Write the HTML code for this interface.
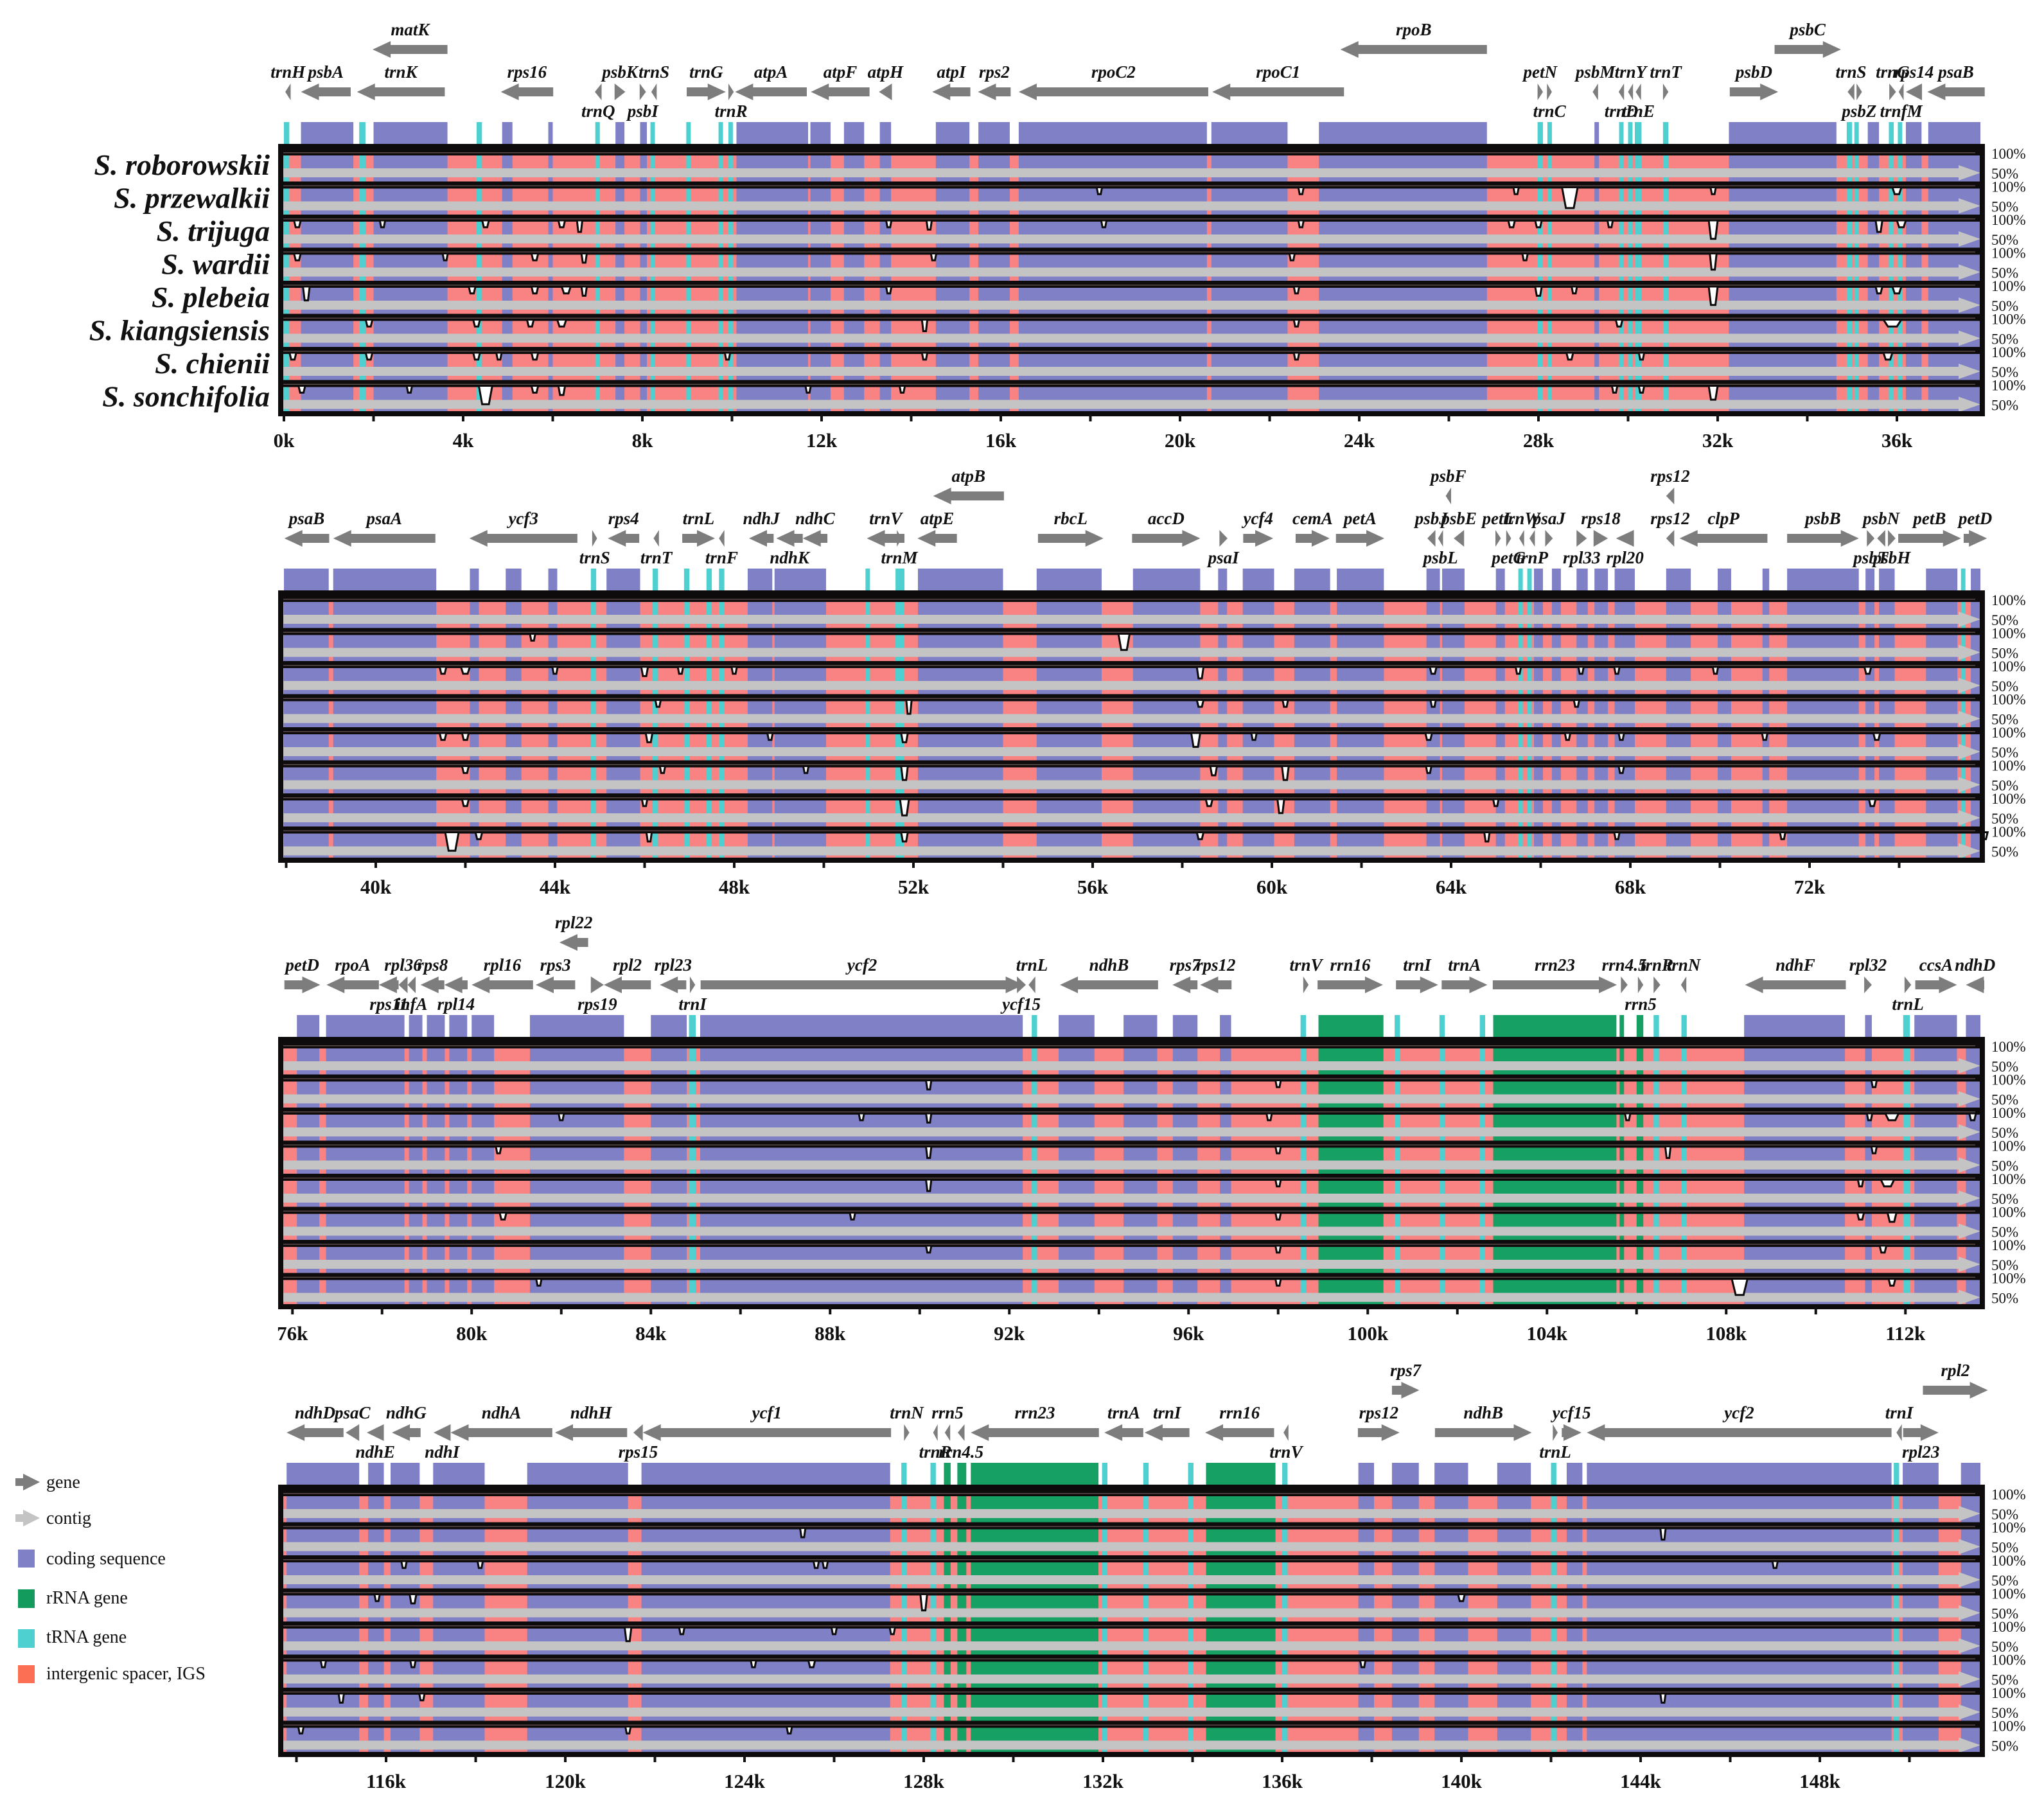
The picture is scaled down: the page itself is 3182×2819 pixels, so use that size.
<!DOCTYPE html>
<html><head><meta charset="utf-8"><title>mVISTA plastome alignment</title>
<style>
html,body{margin:0;padding:0;background:#fff;}
svg{display:block;}
.gl{font-family:"Liberation Serif",serif;font-weight:bold;font-style:italic;font-size:27px;fill:#111;}
.sp{font-family:"Liberation Serif",serif;font-weight:bold;font-style:italic;font-size:46px;fill:#111;}
.ax{font-family:"Liberation Serif",serif;font-weight:bold;font-size:31px;fill:#111;}
.pc{font-family:"Liberation Serif",serif;font-size:23px;fill:#111;}
.lg{font-family:"Liberation Serif",serif;font-size:28px;fill:#111;}
</style></head>
<body>
<svg id="chart" xmlns="http://www.w3.org/2000/svg" width="3182" height="2819" viewBox="0 0 3182 2819">
<rect x="0" y="0" width="3182" height="2819" fill="#ffffff"/>
<g>
 <g><rect x="24" y="2301" width="14" height="12" fill="#7d7d7d"/><polygon points="36,2294 62,2307 36,2320" fill="#7d7d7d"/><text class="lg" x="72" y="2316">gene</text></g>
 <g><rect x="24" y="2357" width="14" height="12" fill="#c4c4c4"/><polygon points="36,2350 62,2363 36,2376" fill="#c4c4c4"/><text class="lg" x="72" y="2372">contig</text></g>
 <g><rect x="28" y="2412" width="26" height="28" fill="#7f80c6"/><text class="lg" x="72" y="2435">coding sequence</text></g>
 <g><rect x="28" y="2474" width="26" height="29" fill="#129b5c"/><text class="lg" x="72" y="2496">rRNA gene</text></g>
 <g><rect x="28" y="2536" width="26" height="29" fill="#4fd0d0"/><text class="lg" x="72" y="2557">tRNA gene</text></g>
 <g><rect x="28" y="2592" width="26" height="28" fill="#fd6f55"/><text class="lg" x="72" y="2614">intergenic spacer, IGS</text></g>
</g>
</svg>
<script>
// ---- data ----
const species = ["S. roborowskii","S. przewalkii","S. trijuga","S. wardii","S. plebeia","S. kiangsiensis","S. chienii","S. sonchifolia"];
const panelStarts = [0, 37.95, 75.81, 113.72];
const panelLength = 38.05;
const tickStepK = 2;
const labelStepK = 4;
// annotation blocks per panel: [start k, end k, type] c=coding t=tRNA r=rRNA
const blocks0 = [[0,0.12,'t'],[0.38,1.55,'c'],[1.68,1.82,'t'],[2.0,3.65,'c'],[4.3,4.42,'t'],[4.87,5.1,'c'],[5.9,6.0,'c'],[6.95,7.05,'t'],[7.4,7.6,'c'],[7.95,8.1,'c'],[8.18,8.28,'t'],[8.98,9.08,'t'],[9.7,9.8,'t'],[9.92,10.02,'t'],[10.1,11.7,'c'],[11.75,12.2,'c'],[12.5,12.95,'c'],[13.3,13.55,'c'],[14.55,15.3,'c'],[15.5,16.2,'c'],[16.4,20.6,'c'],[20.7,22.4,'c'],[23.1,26.85,'c'],[27.98,28.1,'t'],[28.2,28.3,'t'],[29.25,29.35,'c'],[29.8,29.9,'t'],[30.0,30.1,'t'],[30.15,30.3,'t'],[30.78,30.9,'t'],[32.25,34.65,'c'],[34.88,35.0,'t'],[35.05,35.15,'t'],[35.35,35.6,'c'],[35.82,35.93,'t'],[36.02,36.12,'t'],[36.2,36.55,'c'],[36.7,37.98,'c']];
const blocks1 = [[37.95,38.95,'c'],[39.05,41.35,'c'],[42.1,42.3,'c'],[42.9,43.25,'c'],[43.85,44.05,'c'],[44.8,44.92,'t'],[45.15,45.9,'c'],[46.18,46.3,'t'],[46.88,47.0,'t'],[47.38,47.5,'t'],[47.66,47.78,'t'],[48.3,48.85,'c'],[48.9,50.05,'c'],[50.93,51.03,'t'],[51.6,51.8,'t'],[52.1,54.0,'c'],[54.75,56.2,'c'],[56.9,58.4,'c'],[58.8,59.0,'c'],[59.35,60.05,'c'],[60.5,61.3,'c'],[61.45,62.5,'c'],[63.45,63.75,'c'],[63.8,64.3,'c'],[65.0,65.2,'c'],[65.5,65.6,'t'],[65.7,65.8,'t'],[65.85,66.05,'c'],[66.25,66.45,'c'],[66.8,67.05,'c'],[67.2,67.5,'c'],[67.65,68.1,'c'],[68.8,69.35,'c'],[69.95,70.25,'c'],[70.95,71.1,'c'],[71.5,73.1,'c'],[73.25,73.45,'c'],[73.55,73.9,'c'],[74.6,75.3,'c'],[75.38,75.48,'t'],[75.6,75.98,'c']];
const blocks2 = [[76.1,76.6,'c'],[76.75,78.5,'c'],[78.6,78.9,'c'],[79.0,79.4,'c'],[79.5,79.9,'c'],[80.0,80.5,'c'],[81.3,83.4,'c'],[84.0,84.8,'c'],[84.85,85.0,'t'],[85.1,92.3,'c'],[92.5,92.62,'t'],[93.1,93.9,'c'],[94.55,95.3,'c'],[95.65,96.2,'c'],[96.7,96.95,'c'],[98.5,98.62,'t'],[98.9,100.35,'r'],[100.6,100.72,'t'],[101.6,101.72,'t'],[102.5,102.62,'t'],[102.8,105.55,'r'],[105.62,105.72,'r'],[106.0,106.15,'r'],[106.38,106.5,'t'],[107.0,107.12,'t'],[108.4,110.65,'c'],[111.1,111.25,'c'],[111.95,112.1,'t'],[112.2,113.15,'c'],[113.35,113.75,'c']];
const blocks3 = [[113.78,115.4,'c'],[115.6,115.95,'c'],[116.1,116.75,'c'],[117.05,118.2,'c'],[119.15,121.4,'c'],[121.7,127.25,'c'],[127.5,127.62,'t'],[128.15,128.27,'t'],[128.45,128.6,'r'],[128.75,128.95,'r'],[129.05,131.9,'r'],[131.98,132.1,'t'],[132.9,133.02,'t'],[133.9,134.02,'t'],[134.3,135.85,'r'],[136.0,136.12,'t'],[137.7,138.05,'c'],[138.45,139.05,'c'],[139.4,140.15,'c'],[140.8,141.55,'c'],[142.0,142.12,'t'],[142.35,142.7,'c'],[142.8,149.6,'c'],[149.65,149.77,'t'],[149.85,150.65,'c'],[151.15,151.65,'c']];
// genes: [name, start k, end k, direction (+1 right / -1 left), placement a=label above, b=label below, u=upper row]
const genes0 = [["trnH",0.03,0.15,-1,'a'],["psbA",0.38,1.49,-1,'a'],["trnK",1.63,3.59,-1,'a'],["matK",1.98,3.65,-1,'u'],["rps16",4.84,6.01,-1,'a'],["trnQ",6.94,7.09,-1,'b'],["psbK",7.38,7.62,1,'a'],["psbI",7.94,8.08,1,'b'],["trnS",8.2,8.32,-1,'a'],["trnG",8.99,9.86,1,'a'],["trnR",9.92,10.04,1,'b'],["atpA",10.07,11.67,-1,'a'],["atpF",11.76,13.07,-1,'a'],["atpH",13.28,13.57,-1,'a'],["atpI",14.47,15.32,-1,'a'],["rps2",15.49,16.22,-1,'a'],["rpoC2",16.4,20.63,-1,'a'],["rpoC1",20.72,23.66,-1,'a'],["rpoB",23.58,26.85,-1,'u'],["petN",27.98,28.1,1,'a'],["trnC",28.19,28.3,1,'b'],["psbM",29.21,29.33,-1,'a'],["trnD",29.79,29.91,-1,'b'],["trnY",30.0,30.11,-1,'a'],["trnE",30.17,30.29,-1,'b'],["trnT",30.78,30.9,1,'a'],["psbD",32.27,33.35,1,'a'],["psbC",33.27,34.75,1,'u'],["trnS",34.9,35.05,-1,'a'],["psbZ",35.1,35.22,1,'b'],["trnG",35.83,35.98,1,'a'],["trnfM",36.04,36.15,-1,'b'],["rps14",36.2,36.56,-1,'a'],["psaB",36.68,37.96,-1,'a']];
const genes1 = [["psaB",37.96,38.96,-1,'a'],["psaA",39.05,41.33,-1,'a'],["ycf3",42.09,44.5,-1,'a'],["trnS",44.83,44.94,1,'b'],["rps4",45.18,45.88,-1,'a'],["trnT",46.2,46.32,-1,'b'],["trnL",46.84,47.57,1,'a'],["trnF",47.66,47.78,-1,'b'],["ndhJ",48.33,48.88,-1,'a'],["ndhK",48.94,49.53,-1,'b'],["ndhC",49.53,50.08,-1,'a'],["trnV",50.96,51.8,-1,'a'],["trnM",51.63,51.74,1,'b'],["atpE",52.09,52.97,-1,'a'],["atpB",52.44,54.02,-1,'u'],["rbcL",54.78,56.24,1,'a'],["accD",56.88,58.4,1,'a'],["psaI",58.83,59.01,1,'b'],["ycf4",59.36,60.03,1,'a'],["cemA",60.53,61.29,1,'a'],["petA",61.43,62.51,1,'a'],["psbJ",63.47,63.65,-1,'a'],["psbL",63.71,63.82,-1,'b'],["psbF",63.88,64.0,-1,'u'],["psbE",64.06,64.29,-1,'a'],["petL",64.99,65.11,1,'a'],["petG",65.23,65.34,1,'b'],["trnW",65.52,65.63,-1,'a'],["trnP",65.75,65.87,-1,'b'],["psaJ",66.1,66.27,1,'a'],["rpl33",66.8,67.03,1,'b'],["rps18",67.18,67.5,1,'a'],["rpl20",67.68,68.08,-1,'b'],["rps12",68.8,68.98,-1,'u'],["rps12",68.8,68.98,-1,'a'],["clpP",69.1,71.06,-1,'a'],["psbB",71.5,73.1,1,'a'],["psbT",73.28,73.45,1,'b'],["psbN",73.51,73.69,-1,'a'],["psbH",73.75,73.92,1,'b'],["petB",73.98,75.38,1,'a'],["petD",75.44,75.96,1,'a']];
const genes2 = [["petD",75.82,76.62,1,'a'],["rpoA",76.76,77.93,-1,'a'],["rps11",77.93,78.37,-1,'b'],["rpl36",78.37,78.57,-1,'a'],["infA",78.57,78.75,-1,'b'],["rps8",78.86,79.39,-1,'a'],["rpl14",79.39,79.91,-1,'b'],["rpl16",80.0,81.37,-1,'a'],["rps3",81.43,82.31,-1,'a'],["rpl22",81.96,82.6,-1,'u'],["rps19",82.66,82.95,1,'b'],["rpl2",82.95,84.0,-1,'a'],["rpl23",84.2,84.79,-1,'a'],["trnI",84.87,84.99,1,'b'],["ycf2",85.11,92.32,1,'a'],["ycf15",92.17,92.37,1,'b'],["trnL",92.43,92.58,-1,'a'],["ndhB",93.13,95.32,-1,'a'],["rps7",95.64,96.2,-1,'a'],["rps12",96.26,96.96,-1,'a'],["trnV",98.56,98.68,1,'a'],["rrn16",98.88,100.34,1,'a'],["trnI",100.63,101.57,1,'a'],["trnA",101.65,102.67,1,'a'],["rrn23",102.79,105.56,1,'a'],["rrn4.5",105.65,105.8,1,'a'],["rrn5",106.03,106.15,1,'b'],["trnR",106.38,106.53,1,'a'],["trnN",106.99,107.11,-1,'a'],["ndhF",108.42,110.67,-1,'a'],["rpl32",111.08,111.25,1,'a'],["trnL",111.98,112.13,1,'b'],["ccsA",112.22,113.15,1,'a'],["ndhD",113.35,113.76,-1,'a']];
const genes3 = [["ndhD",113.78,115.05,-1,'a'],["psaC",115.1,115.4,-1,'a'],["ndhE",115.57,115.95,-1,'b'],["ndhG",116.13,116.77,-1,'a'],["ndhI",117.06,117.44,-1,'b'],["ndhA",117.44,119.71,-1,'a'],["ndhH",119.77,121.38,-1,'a'],["rps15",121.52,121.73,-1,'b'],["ycf1",121.73,127.27,-1,'a'],["trnN",127.56,127.68,1,'a'],["trnR",128.21,128.3,-1,'b'],["rrn5",128.47,128.59,-1,'a'],["rrn4.5",128.76,128.91,-1,'b'],["rrn23",129.05,131.91,-1,'a'],["trnA",132.03,132.9,-1,'a'],["trnI",132.93,133.93,-1,'a'],["rrn16",134.28,135.82,-1,'a'],["trnV",136.03,136.14,-1,'b'],["rps12",137.69,138.62,1,'a'],["rps7",138.45,139.06,1,'u'],["ndhB",139.41,141.57,1,'a'],["trnL",142.04,142.15,1,'b'],["ycf15",142.24,142.68,1,'a'],["ycf2",142.8,149.6,-1,'a'],["trnI",149.71,149.83,-1,'a'],["rpl23",149.86,150.65,1,'b'],["rpl2",150.3,151.75,1,'u']];
// conservation dips: [panel, track, position k, depth 0..1, width k]
const dips = [
[0,1,18.2,0.3,0.12],[0,1,22.7,0.3,0.12],[0,1,27.5,0.3,0.12],[0,1,28.7,0.9,0.35],[0,1,31.9,0.3,0.12],[0,1,36.0,0.3,0.2],
[0,2,0.3,0.3,0.15],[0,2,2.2,0.3,0.12],[0,2,4.5,0.3,0.15],[0,2,6.2,0.3,0.15],[0,2,6.6,0.5,0.12],[0,2,13.5,0.3,0.12],[0,2,14.4,0.4,0.12],[0,2,18.3,0.3,0.12],[0,2,22.7,0.3,0.12],[0,2,27.4,0.3,0.15],[0,2,28.0,0.3,0.15],[0,2,29.6,0.3,0.12],[0,2,31.9,0.8,0.2],[0,2,35.6,0.5,0.15],[0,2,36.1,0.3,0.2],
[0,3,0.3,0.3,0.15],[0,3,3.6,0.3,0.1],[0,3,5.6,0.3,0.15],[0,3,6.7,0.4,0.12],[0,3,14.5,0.3,0.12],[0,3,22.5,0.3,0.12],[0,3,27.7,0.3,0.12],[0,3,31.9,0.7,0.15],
[0,4,0.5,0.6,0.15],[0,4,4.2,0.3,0.15],[0,4,5.6,0.3,0.15],[0,4,6.3,0.3,0.2],[0,4,6.7,0.4,0.12],[0,4,13.5,0.3,0.12],[0,4,22.6,0.3,0.12],[0,4,28.0,0.4,0.15],[0,4,28.8,0.3,0.12],[0,4,31.9,0.8,0.2],[0,4,35.6,0.3,0.15],[0,4,36.0,0.3,0.2],
[0,5,1.9,0.3,0.15],[0,5,4.3,0.3,0.15],[0,5,5.5,0.3,0.15],[0,5,6.2,0.3,0.2],[0,5,14.3,0.5,0.12],[0,5,22.6,0.3,0.12],[0,5,29.8,0.3,0.15],[0,5,35.9,0.3,0.4],
[0,6,0.2,0.3,0.15],[0,6,1.9,0.3,0.15],[0,6,4.3,0.3,0.15],[0,6,4.8,0.3,0.12],[0,6,5.6,0.3,0.15],[0,6,9.9,0.3,0.12],[0,6,14.3,0.3,0.12],[0,6,22.6,0.3,0.12],[0,6,28.7,0.3,0.15],[0,6,30.3,0.3,0.12],[0,6,35.8,0.3,0.2],
[0,7,0.4,0.3,0.15],[0,7,2.8,0.3,0.12],[0,7,4.5,0.8,0.3],[0,7,5.6,0.3,0.15],[0,7,6.2,0.4,0.15],[0,7,11.7,0.3,0.12],[0,7,13.8,0.3,0.12],[0,7,29.7,0.3,0.12],[0,7,30.3,0.3,0.12],[0,7,31.9,0.6,0.2],
[1,1,43.5,0.3,0.12],[1,1,56.7,0.7,0.25],
[1,2,41.5,0.3,0.15],[1,2,42.0,0.3,0.2],[1,2,44.0,0.3,0.12],[1,2,46.0,0.4,0.15],[1,2,46.8,0.3,0.12],[1,2,48.0,0.3,0.12],[1,2,58.4,0.5,0.15],[1,2,63.6,0.3,0.15],[1,2,65.5,0.3,0.12],[1,2,66.9,0.3,0.12],[1,2,67.7,0.3,0.12],[1,2,69.9,0.3,0.12],[1,2,73.3,0.3,0.15],
[1,3,46.3,0.3,0.12],[1,3,51.9,0.6,0.12],[1,3,58.4,0.3,0.15],[1,3,60.3,0.3,0.12],[1,3,63.6,0.3,0.12],[1,3,66.8,0.3,0.12],
[1,4,41.5,0.3,0.15],[1,4,42.0,0.3,0.15],[1,4,46.1,0.4,0.15],[1,4,48.8,0.3,0.12],[1,4,51.8,0.4,0.15],[1,4,58.3,0.6,0.2],[1,4,59.6,0.3,0.12],[1,4,63.5,0.3,0.15],[1,4,66.6,0.3,0.12],[1,4,67.8,0.3,0.12],[1,4,71.0,0.3,0.12],[1,4,73.5,0.3,0.15],
[1,5,42.0,0.3,0.15],[1,5,46.4,0.3,0.12],[1,5,49.6,0.3,0.12],[1,5,51.8,0.6,0.15],[1,5,58.7,0.4,0.15],[1,5,60.3,0.6,0.15],[1,5,63.5,0.3,0.12],[1,5,67.8,0.3,0.12],
[1,6,42.0,0.3,0.15],[1,6,46.0,0.3,0.12],[1,6,51.8,0.7,0.2],[1,6,58.6,0.3,0.15],[1,6,60.2,0.6,0.15],[1,6,65.0,0.3,0.12],[1,6,73.4,0.3,0.15],
[1,7,41.7,0.8,0.3],[1,7,42.3,0.3,0.15],[1,7,46.1,0.4,0.12],[1,7,51.8,0.4,0.15],[1,7,58.4,0.3,0.15],[1,7,64.8,0.4,0.12],[1,7,67.7,0.3,0.12],[1,7,71.4,0.3,0.12],[1,7,75.9,0.3,0.15],
[2,1,90.2,0.4,0.12],[2,1,98.0,0.3,0.12],[2,1,111.3,0.3,0.12],
[2,2,82.0,0.3,0.12],[2,2,88.7,0.3,0.12],[2,2,90.2,0.4,0.12],[2,2,97.8,0.3,0.12],[2,2,105.8,0.3,0.12],[2,2,111.2,0.3,0.12],[2,2,111.7,0.3,0.3],[2,2,113.5,0.3,0.15],
[2,3,80.6,0.3,0.12],[2,3,90.2,0.5,0.12],[2,3,98.0,0.3,0.12],[2,3,106.7,0.5,0.12],[2,3,111.3,0.3,0.12],
[2,4,90.2,0.5,0.12],[2,4,98.0,0.3,0.12],[2,4,111.0,0.3,0.12],[2,4,111.6,0.3,0.3],
[2,5,80.7,0.3,0.15],[2,5,88.5,0.3,0.12],[2,5,98.0,0.3,0.12],[2,5,111.0,0.3,0.15],[2,5,111.7,0.4,0.2],
[2,6,90.2,0.3,0.12],[2,6,98.0,0.3,0.12],[2,6,111.5,0.3,0.15],
[2,7,81.5,0.3,0.12],[2,7,98.0,0.3,0.12],[2,7,108.3,0.7,0.35],[2,7,111.7,0.3,0.15],
[3,1,125.3,0.4,0.12],[3,1,144.5,0.5,0.12],
[3,2,116.4,0.3,0.12],[3,2,118.1,0.3,0.12],[3,2,125.6,0.3,0.12],[3,2,125.8,0.3,0.12],[3,2,147.0,0.3,0.12],
[3,3,115.8,0.3,0.12],[3,3,116.6,0.4,0.15],[3,3,128.0,0.7,0.15],[3,3,140.0,0.3,0.15],
[3,4,121.4,0.6,0.15],[3,4,122.6,0.3,0.12],[3,4,126.0,0.3,0.12],[3,4,127.3,0.3,0.12],
[3,5,114.6,0.3,0.12],[3,5,116.6,0.3,0.12],[3,5,124.2,0.3,0.12],[3,5,125.5,0.3,0.15],[3,5,137.8,0.3,0.12],
[3,6,115.0,0.4,0.12],[3,6,116.8,0.3,0.12],[3,6,144.5,0.4,0.12],
[3,7,114.1,0.3,0.12],[3,7,121.4,0.3,0.12],[3,7,125.0,0.3,0.12]];

const allBlocks = [blocks0, blocks1, blocks2, blocks3];
const allGenes = [genes0, genes1, genes2, genes3];

// ---- layout ----
const NS = "http://www.w3.org/2000/svg";
const svg = document.getElementById("chart");
const X0 = 442, PXK = 69.75;
const BOX_L = 433, BOX_R = 3090, INNER_L = 441, INNER_R = 3083;
const PANEL_TOPS = [231, 926, 1621, 2318];
const BOX_H = 412, TRACK_H = BOX_H / 8;
const COLORS = {c:"#7f80c6", t:"#4fd0d0", r:"#16a064", igs:"#f98282", contig:"#c4c4c4", gene:"#7d7d7d"};

function xScale(k, p) { return X0 + (k - panelStarts[p]) * PXK; }
function el(tag, attrs, parent) {
  const e = document.createElementNS(NS, tag);
  for (const a in attrs) e.setAttribute(a, attrs[a]);
  (parent || svg).appendChild(e);
  return e;
}
function clampX(x) { return Math.max(INNER_L, Math.min(INNER_R, x)); }

for (let p = 0; p < 4; p++) {
  const T = PANEL_TOPS[p];
  const g = el("g", {});
  
  

  // annotation bar
  const ann = el("g", {}, g);
  
  
  allBlocks[p].forEach(b => {
    const x1 = clampX(xScale(b[0], p)), x2 = clampX(xScale(b[1], p));
    const r = el("rect", {x: x1, y: T - 41, width: Math.max(3, x2 - x1), height: b[2] === 'r' ? 34 : 41, fill: COLORS[b[2]]}, ann);
    
    
  });

  // genes
  const gg = el("g", {}, g);
  
  
  allGenes[p].forEach(gn => {
    const [name, s, e, dir, pos] = gn;
    const x1 = xScale(s, p), x2 = xScale(e, p);
    const cy = pos === 'u' ? T - 154 : T - 88;
    const len = Math.max(x2 - x1, 7);
    const head = Math.min(28, len);
    let pts;
    if (dir > 0) {
      const hx = x1 + len - head;
      pts = [[x1, cy - 7], [hx, cy - 7], [hx, cy - 13], [x1 + len, cy], [hx, cy + 13], [hx, cy + 7], [x1, cy + 7]];
    } else {
      const hx = x1 + head;
      pts = [[x1 + len, cy - 7], [hx, cy - 7], [hx, cy - 13], [x1, cy], [hx, cy + 13], [hx, cy + 7], [x1 + len, cy + 7]];
    }
    const poly = el("polygon", {points: pts.map(q => q.join(",")).join(" "), fill: COLORS.gene}, gg);
    
    
    const ly = pos === 'u' ? T - 176 : (pos === 'a' ? T - 110 : T - 49);
    const t = el("text", {x: (x1 + x1 + len) / 2, y: ly, "text-anchor": "middle", class: "gl"}, gg);
    t.textContent = name;
    
    
  });

  // tracks
  for (let s = 0; s < 8; s++) {
    const y0 = T + s * TRACK_H;
    const tg = el("g", {}, g);
    
    
    el("rect", {x: INNER_L, y: y0, width: INNER_R - INNER_L, height: TRACK_H, fill: COLORS.igs}, tg);
    allBlocks[p].forEach(b => {
      const x1 = clampX(xScale(b[0], p)), x2 = clampX(xScale(b[1], p));
      el("rect", {x: x1, y: y0, width: Math.max(3, x2 - x1), height: TRACK_H, fill: COLORS[b[2]]}, tg);
    });
    // contig arrow
    const cy = y0 + 38;
    const ca = el("polygon", {points: `${INNER_L},${cy-7} ${INNER_R-34},${cy-7} ${INNER_R-34},${cy-12} ${INNER_R},${cy} ${INNER_R-34},${cy+12} ${INNER_R-34},${cy+7} ${INNER_L},${cy+7}`, fill: COLORS.contig}, tg);
    
    
    // 100% band
    el("rect", {x: INNER_L, y: y0, width: INNER_R - INNER_L, height: 11, fill: "#0d0b0b"}, tg);
    el("rect", {x: INNER_L, y: y0 + 6, width: INNER_R - INNER_L - 8, height: 1.5, fill: "#5a4a4a"}, tg);
    // labels
    const t1 = el("text", {x: 3100, y: y0 + 16, class: "pc"}, g);
    t1.textContent = "100%";
    
    
    const t2 = el("text", {x: 3100, y: y0 + 47, class: "pc"}, g);
    t2.textContent = "50%";
    
    
    if (p === 0) {
      const sl = el("text", {x: 420, y: y0 + TRACK_H / 2 + 15, "text-anchor": "end", class: "sp"}, g);
      sl.textContent = species[s];
      
      
    }
  }

  // dips
  dips.filter(d => d[0] === p).forEach(d => {
    const y0 = T + d[1] * TRACK_H + 9;
    const x = xScale(d[2], p), w = Math.max(d[4] * PXK, 8), h = d[3] * 36;
    const path = el("path", {d: `M${x - w/2},${y0} L${x - w/4},${y0 + h} L${x + w/4},${y0 + h} L${x + w/2},${y0} Z`, fill: "#ffffff", stroke: "#0d0b0b", "stroke-width": 3}, g);
    
    
  });

  // box frame
  const fr = el("rect", {x: BOX_L + 4, y: T - 3, width: BOX_R - BOX_L - 8, height: BOX_H + 4, fill: "none", stroke: "#0d0b0b", "stroke-width": 8}, g);
  
  

  // x axis
  const axg = el("g", {}, g);
  
  
  const kFirst = Math.ceil(panelStarts[p] / tickStepK) * tickStepK;
  for (let k = kFirst; k <= panelStarts[p] + panelLength + 0.01; k += tickStepK) {
    const x = xScale(k, p);
    if (x < INNER_L - 12 || x > BOX_R + 2) continue;
    el("rect", {x: x - 2, y: T + BOX_H + 1, width: 4, height: 12, fill: "#111"}, axg);
    if (k % labelStepK === 0 && (x > 448 || k === 0)) {
      const tl = el("text", {x: x, y: T + BOX_H + 53, "text-anchor": "middle", class: "ax"}, axg);
      tl.textContent = k + "k";
      
      
    }
  }
}
</script>
</body></html>
